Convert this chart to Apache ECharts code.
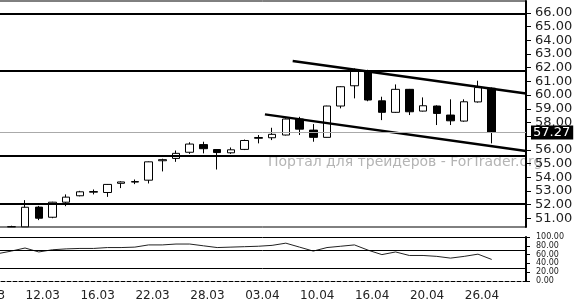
<!DOCTYPE html>
<html><head><meta charset="utf-8">
<script src="https://cdn.jsdelivr.net/npm/echarts@6/dist/echarts.min.js"></script>
<style>html,body{margin:0;padding:0;background:#fff}#c{width:585px;height:305px}</style>
</head><body><div id="c"></div>
<script>
// categories (trading days), two padding days on each side
const dates = ['06.03','07.03','08.03','09.03','12.03','13.03','14.03','15.03','16.03','19.03','20.03','21.03','22.03','23.03','26.03','27.03','28.03','29.03','30.03','02.04','03.04','04.04','05.04','09.04','10.04','11.04','12.04','13.04','16.04','17.04','18.04','19.04','20.04','23.04','24.04','25.04','26.04','27.04','30.04','01.05'];
const opens  = [null,null,50.37,50.37,51.81,51.07,52.17,52.64,52.9,52.88,53.55,53.64,53.78,55.2,55.37,55.82,56.38,56.02,55.78,56.03,56.84,56.88,57.08,58.25,57.44,56.91,59.2,60.68,61.78,59.58,58.74,60.42,58.83,59.2,58.54,58.1,59.5,60.5,null,null];
const closes = [null,null,50.38,51.8,51.0,52.17,52.54,52.93,52.95,53.47,53.65,53.68,55.12,55.28,55.74,56.42,56.08,55.8,56.0,56.68,56.9,57.13,58.25,57.51,56.91,59.2,60.61,61.78,59.64,58.74,60.42,58.78,59.22,58.66,58.12,59.51,60.55,57.27,null,null];
const lows   = [null,null,50.37,50.37,50.86,51.0,51.88,52.6,52.74,52.56,53.2,53.49,53.54,54.42,55.12,55.7,55.74,54.56,55.7,55.98,56.47,56.71,57.05,57.08,56.59,56.9,59.03,59.76,59.55,58.17,58.7,58.54,58.8,57.81,57.81,58.05,59.45,56.47,null,null];
const highs  = [null,null,50.45,52.32,51.9,52.2,52.74,53.0,53.1,53.5,53.7,53.83,55.15,55.35,55.95,56.55,56.59,56.05,56.17,56.75,57.08,57.61,58.3,58.41,57.88,59.22,60.65,61.95,61.85,59.88,60.78,60.45,59.83,59.25,59.69,59.69,61.05,60.55,null,null];
const rsi    = [58,62,68,75,66,71,73,74,74,76,76,77,82,82,84,84,80,76,77,78,79,81,86,77,68,76,79,82,70,60,66,58,58,56,52,56,61,49,null,null];
// horizontal levels, channel lines (category index, price), last price
const levels = [65.95, 61.75, 55.6, 52.05];
const upperChannel = [[20.5, 62.49], [37.5, 60.12]];
const lowerChannel = [[18.48, 58.59], [37.5, 55.91]];
const lastPrice = 57.27;
const priceTicks = [51,52,53,54,55,56,57,58,59,60,61,62,63,64,65,66];
const rsiLevels = [100, 70, 30];

const candles = opens.map((o, i) => o == null ? '-' : [o, closes[i], lows[i], highs[i]]);
const L = -23, W = 549;
const chart = echarts.init(document.getElementById('c'), null, {renderer: 'canvas'});
const font = 'DejaVu Sans';
chart.setOption({
  animation: false,
  backgroundColor: '#fff',
  graphic: [{
    type: 'text', left: 268, top: 155, z: 0,
    style: {text: 'Портал для трейдеров - ForTrader.org', fill: '#b4b4b4', font: '14px "DejaVu Sans"'}
  }],
  grid: [
    {left: L, width: W, top: 1, height: 226, show: true, borderColor: '#000', borderWidth: 1, backgroundColor: 'transparent', outerBoundsMode: 'none', containLabel: false},
    {left: L, width: W, top: 237, height: 44, outerBoundsMode: 'none', containLabel: false}
  ],
  xAxis: [
    {type: 'category', gridIndex: 0, data: dates, show: false},
    {type: 'category', gridIndex: 1, data: dates,
      axisLine: {lineStyle: {color: '#000', type: [4, 2]}},
      axisTick: {inside: true, length: 2, interval: 0, lineStyle: {color: '#000'}},
      axisLabel: {interval: (i) => i % 4 === 0 && i <= 36, fontFamily: font, fontSize: 12, color: '#222', margin: 9, padding: [0, 0, 0, 8], hideOverlap: false}},
    {type: 'value', gridIndex: 0, min: -2.5, max: 37.5, show: false}
  ],
  yAxis: [
    {type: 'value', gridIndex: 0, position: 'right', min: 50.357, max: 66.877, scale: true,
      splitLine: {show: false},
      axisLine: {show: true, onZero: false, lineStyle: {color: '#000', width: 2}},
      axisTick: {show: true, customValues: priceTicks, length: 5, lineStyle: {color: '#000'}},
      axisLabel: {customValues: priceTicks, formatter: v => v.toFixed(2), fontFamily: font, fontSize: 13, color: '#222', margin: 9}},
    {type: 'value', gridIndex: 1, position: 'right', min: 0, max: 100, interval: 20,
      splitLine: {show: false},
      axisLine: {show: true, onZero: false, lineStyle: {color: '#000', width: 2}},
      axisTick: {show: true, length: 4, lineStyle: {color: '#000'}},
      axisLabel: {formatter: v => v.toFixed(2), fontFamily: font, fontSize: 8, lineHeight: 7, color: '#222', margin: 10, showMinLabel: true, showMaxLabel: true, hideOverlap: false}}
  ],
  series: [
    {type: 'candlestick', xAxisIndex: 0, yAxisIndex: 0, data: candles, barWidth: 8, clip: true,
      itemStyle: {color: '#fff', color0: '#000', borderColor: '#000', borderColor0: '#000', borderWidth: 1},
      markLine: {silent: true, symbol: 'none', animation: false,
        data: levels.map(v => ({yAxis: v, lineStyle: {color: '#000', width: 2, type: 'solid'}, label: {show: false}}))
          .concat([{yAxis: lastPrice, lineStyle: {color: '#aaa', width: 1, type: 'solid'},
            label: {show: true, position: 'end', distance: 5, formatter: p => p.value.toFixed(2),
              backgroundColor: '#000', color: '#fff', padding: [1, 3, 0, 2], fontFamily: font, fontSize: 13}}])}},
    {type: 'line', xAxisIndex: 2, yAxisIndex: 0, data: upperChannel, symbol: 'none', lineStyle: {color: '#000', width: 2.5}, z: 3},
    {type: 'line', xAxisIndex: 2, yAxisIndex: 0, data: lowerChannel, symbol: 'none', lineStyle: {color: '#000', width: 2.5}, z: 3},
    {type: 'line', xAxisIndex: 1, yAxisIndex: 1, data: rsi, symbol: 'none', lineStyle: {color: '#222', width: 1},
      markLine: {silent: true, symbol: 'none', animation: false,
        data: rsiLevels.map(v => ({yAxis: v})), lineStyle: {color: '#000', width: 1, type: 'solid'}, label: {show: false}}}
  ]
});
</script>
</body></html>
